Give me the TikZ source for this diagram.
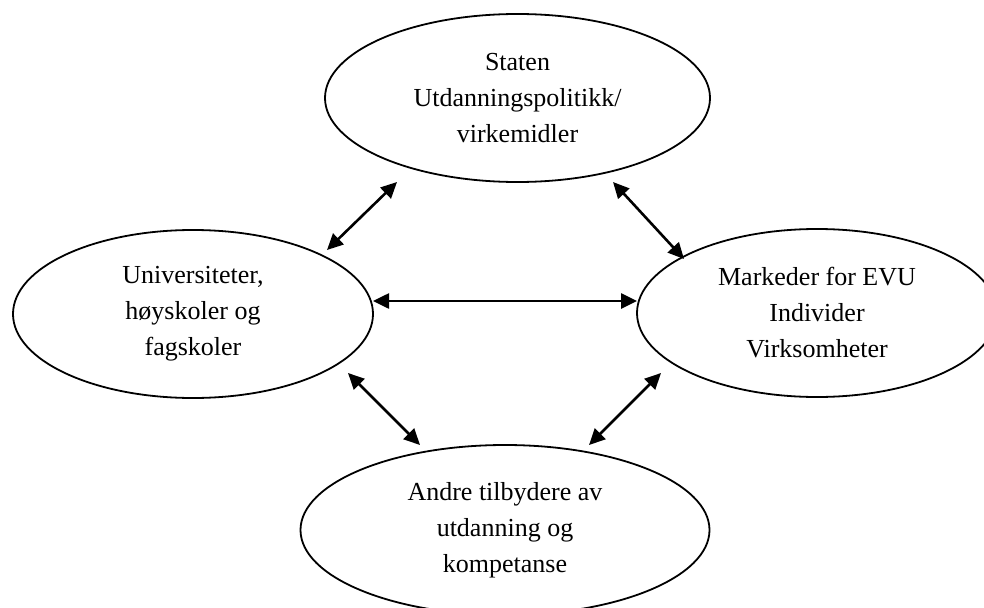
\documentclass[tikz,border=0pt]{standalone}
\usepackage{fontspec}
\setmainfont{Liberation Serif}
\usetikzlibrary{shapes.geometric,arrows.meta}
\tikzset{
  bubble/.style={ellipse, draw=black, line width=1.8pt, inner sep=0pt, align=center,
    font=\fontsize{26}{36}\selectfont},
  link/.style={line width=2.6pt, {Triangle[length=16pt,width=15pt]}-{Triangle[length=16pt,width=15pt]}}
}
\begin{document}
\begin{tikzpicture}[x=1pt,y=-1pt]
\useasboundingbox (0,0) rectangle (984,607);
\clip (0,0) rectangle (984,607);
\node[bubble, minimum width=385pt, minimum height=168pt] (staten) at (517.5,98)
  {Staten\\Utdanningspolitikk/\\virkemidler};
\node[bubble, minimum width=360pt, minimum height=168pt] (univ) at (193,314)
  {Universiteter,\\høyskoler og\\fagskoler};
\node[bubble, minimum width=360pt, minimum height=168pt] (mark) at (817,313)
  {Markeder for EVU\\Individer\\Virksomheter};
\node[bubble, minimum width=409pt, minimum height=170pt] (andre) at (505,530)
  {Andre tilbydere av\\utdanning og\\kompetanse};
\coordinate (a1u) at (327,250);
\coordinate (a1s) at (397,182);
\coordinate (a2s) at (613,182);
\coordinate (a2m) at (684,259);
\coordinate (a3u) at (373,301);
\coordinate (a3m) at (637,301);
\coordinate (a4u) at (348,373);
\coordinate (a4a) at (420,445);
\coordinate (a5a) at (589,445);
\coordinate (a5m) at (661,373);
\draw[link] (a1u) -- (a1s);
\draw[link] (a2s) -- (a2m);
\draw[link] (a3u) -- (a3m);
\draw[link] (a4u) -- (a4a);
\draw[link] (a5a) -- (a5m);
\end{tikzpicture}
\end{document}
